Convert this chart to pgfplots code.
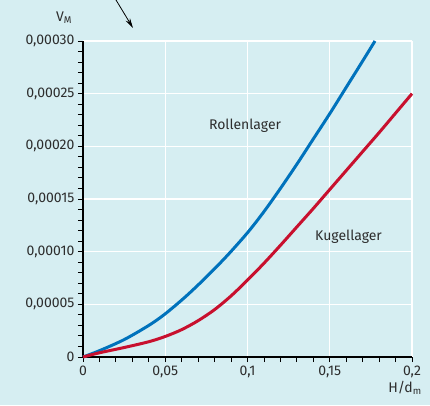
\documentclass[border=0pt]{standalone}
\usepackage{pgfplots}
\pgfplotsset{compat=1.18}
\usepackage{fontspec}
\setmainfont{Fira Sans}
\usetikzlibrary{arrows.meta}
\definecolor{bg}{RGB}{214,238,242}
\definecolor{cblue}{RGB}{0,114,188}
\definecolor{cred}{RGB}{200,16,46}
\definecolor{txt}{RGB}{45,45,45}
\begin{document}
\begin{tikzpicture}[x=1pt,y=1pt]
\fill[bg] (0,0) rectangle (430,405);
\useasboundingbox (0,0) rectangle (430,405);
\begin{axis}[
  at={(83pt,48pt)}, anchor=south west,
  scale only axis, width=329pt, height=316pt,
  xmin=0, xmax=0.2, ymin=0, ymax=0.0003,
  axis lines=left,
  axis line style={-, line width=2.2pt, black},
  grid=major,
  major grid style={white, line width=1.3pt},
  minor x tick num=4, minor y tick num=4,
  tick align=outside,
  major tick length=5pt, minor tick length=5pt,
  tick style={black, line width=0.9pt},
  xtick={0,0.05,0.1,0.15,0.2},
  xticklabels={0,{0,05},{0,1},{0,15},{0,2}},
  ytick={0,0.00005,0.0001,0.00015,0.0002,0.00025,0.0003},
  yticklabels={0,{0,00005},{0,00010},{0,00015},{0,00020},{0,00025},{0,00030}},
  scaled y ticks=false, scaled x ticks=false,
  ticklabel style={font=\fontsize{14}{16}\selectfont, text=txt},
  clip=false,
]
\addplot[cblue, line width=3pt, smooth, tension=0.5] coordinates {
(0,0) (0.01,0.000006) (0.025,0.0000165) (0.04,0.00003) (0.05,0.000041)
(0.0625,0.0000575) (0.075,0.000076) (0.0875,0.000096) (0.1,0.000118)
(0.11,0.000138) (0.12,0.00016) (0.13,0.000183) (0.14,0.000207)
(0.15,0.000231) (0.16,0.000256) (0.17,0.000281) (0.1775,0.0003)};
\addplot[cred, line width=3pt, smooth, tension=0.5] coordinates {
(0,0) (0.01,0.000004) (0.025,0.000009) (0.04,0.0000145) (0.05,0.0000195)
(0.06,0.000026) (0.07,0.0000345) (0.08,0.000045) (0.09,0.000058)
(0.1,0.000073) (0.11,0.000089) (0.12,0.000106) (0.13,0.0001235)
(0.14,0.000141) (0.15,0.000159) (0.16,0.000177) (0.17,0.000195)
(0.18,0.000213) (0.19,0.0002315) (0.2,0.00025)};
\node[font=\fontsize{14}{16}\selectfont, text=txt] at (axis cs:0.0985,0.00022) {Rollenlager};
\node[font=\fontsize{14}{16}\selectfont, text=txt] at (axis cs:0.1614,0.0001143) {Kugellager};
\node[font=\fontsize{14}{16}\selectfont, text=txt] at (rel axis cs:0,1) [xshift=-19pt, yshift=23pt] {V\textsubscript{M}};
\node[font=\fontsize{14}{16}\selectfont, text=txt] at (rel axis cs:1,0) [xshift=-7pt, yshift=-31pt] {H/d\textsubscript{m}};
\end{axis}
\draw[line width=0.8pt, -{Stealth[length=10pt,width=5pt]}] (116,405) -- (133,377);
\end{tikzpicture}
\end{document}
